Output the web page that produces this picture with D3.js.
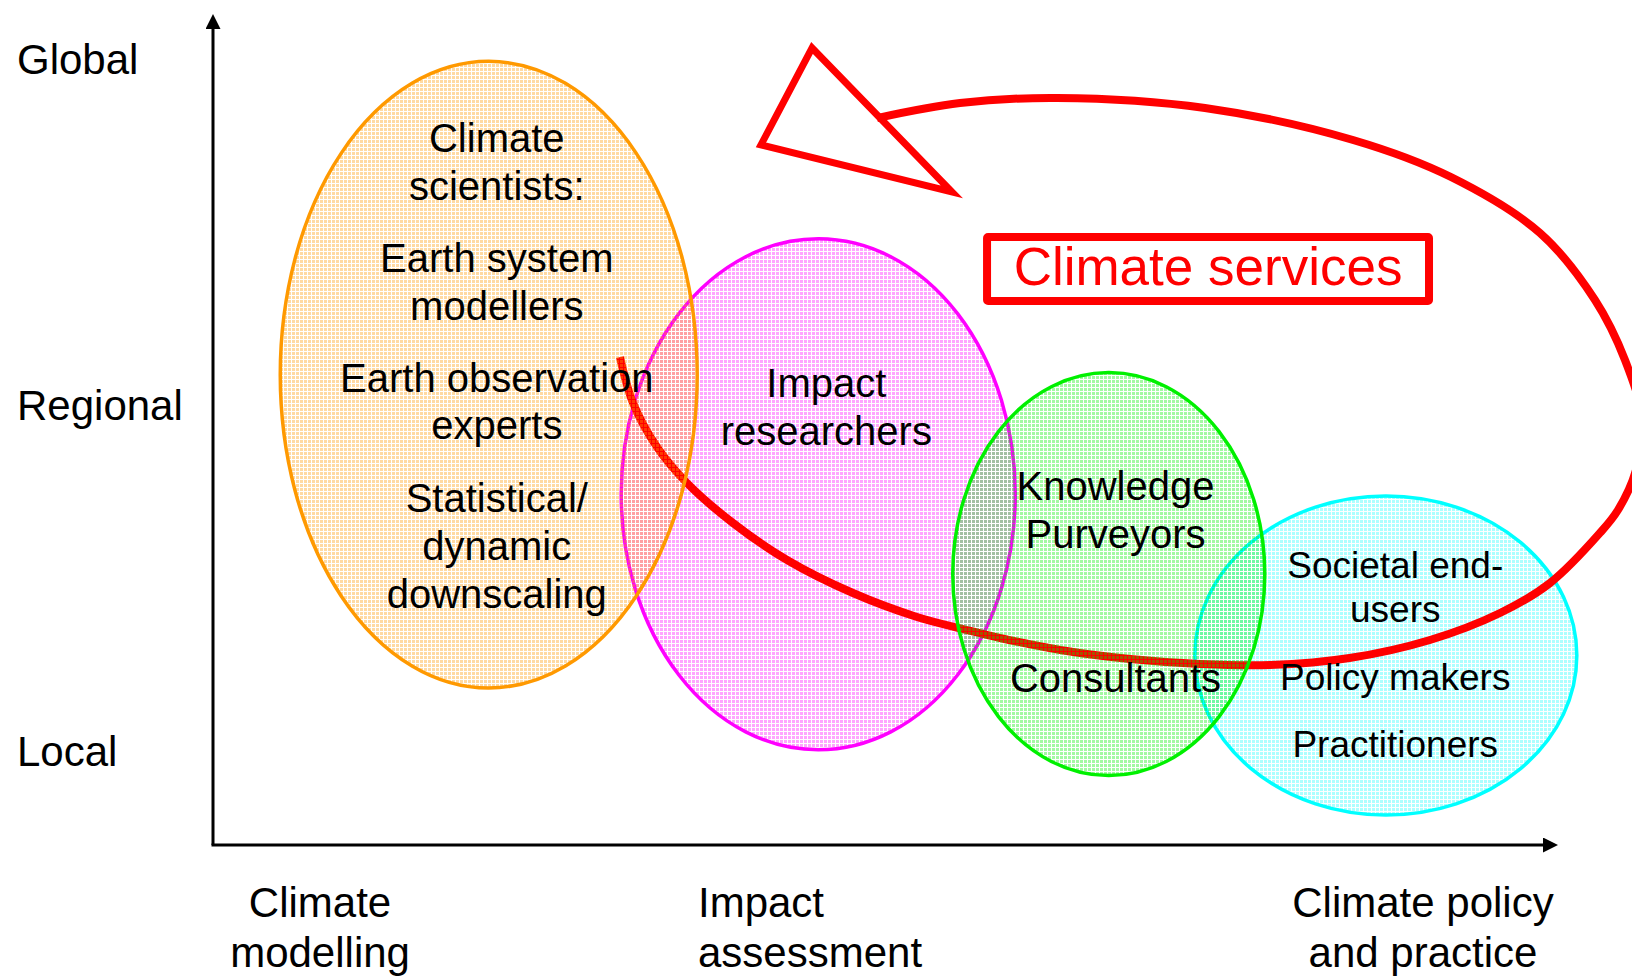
<!DOCTYPE html>
<html>
<head>
<meta charset="utf-8">
<script src="https://cdn.jsdelivr.net/npm/d3@7"></script>
<style>
  html, body { margin: 0; padding: 0; background: #fff; overflow: hidden; }
  svg { display: block; font-family: 'Liberation Sans', Arial, sans-serif; }
</style>
</head>
<body>
<svg id="chart"></svg>
<script>
const SVG_WIDTH = 1632
const SVG_HEIGHT = 976

// actor groups (ellipses), in axis units 0..100
const groupIds = ['scientists', 'impact', 'purveyors', 'users']
const groupCx = [20.5, 45.0, 66.6, 87.2]
const groupCy = [56.6, 42.2, 32.6, 22.8]
const groupRx = [15.5, 14.65, 11.6, 14.2]
const groupRy = [37.7, 30.75, 24.25, 19.2]
const groupColors = ['#ff9900', '#ff00ff', '#00f000', '#00ffff']
const groupAlpha = [0.36, 0.35, 0.36, 0.32]

// text inside the ellipses
const labelText = [
  'Climate', 'scientists:', 'Earth system', 'modellers', 'Earth observation', 'experts',
  'Statistical/', 'dynamic', 'downscaling',
  'Impact', 'researchers',
  'Knowledge', 'Purveyors', 'Consultants',
  'Societal end-', 'users', 'Policy makers', 'Practitioners'
]
const labelX = [21.1, 21.1, 21.1, 21.1, 21.1, 21.1, 21.1, 21.1, 21.1, 45.6, 45.6, 67.1, 67.1, 67.1, 87.9, 87.9, 87.9, 87.9]
const labelY = [83.4, 77.6, 69.0, 63.2, 54.5, 48.8, 40.1, 34.3, 28.5, 53.9, 48.1, 41.5, 35.7, 18.4, 32.1, 26.8, 18.6, 10.6]
const labelSize = [40, 40, 40, 40, 40, 40, 40, 40, 40, 40, 40, 40, 40, 40, 37, 37, 37, 37]

// axis labels
const yTickLabels = ['Global', 'Regional', 'Local']
const yTickValues = [92.8, 51.1, 9.5]
const xTickLabels = [['Climate', 'modelling'], ['Impact', 'assessment'], ['Climate policy', 'and practice']]
const xTickValues = [7.96, 36.06, 89.96]
const xTickAnchor = ['middle', 'start', 'middle']

// climate services loop
const loopX = [30.26, 31.23, 33.01, 35.24, 38.66, 42.68, 47.58, 52.34, 56.06, 58.51, 63.0, 68.2, 73.4, 78.6, 84.5, 90.48, 95.69, 99.41, 103.12, 104.46, 105.8, 106.25, 104.98, 102.75, 98.66, 92.04, 84.76, 73.75, 62.75, 55.54, 49.37]
const loopY = [58.72, 53.19, 47.89, 43.56, 38.75, 34.3, 30.32, 27.44, 25.87, 24.91, 23.47, 22.38, 21.78, 21.66, 22.5, 24.67, 27.92, 31.53, 37.55, 40.31, 45.13, 51.14, 58.36, 65.58, 73.65, 80.38, 84.84, 88.69, 89.89, 89.29, 87.48]
const headX = [44.54, 40.74, 54.94]
const headY = [95.91, 84.24, 78.58]
const serviceBox = { x0: 57.55, x1: 90.41, y0: 65.46, y1: 73.16, label: 'Climate services', labelX: 73.98, labelY: 67.39 }

const svg = d3.select('#chart')
  .attr('width', SVG_WIDTH)
  .attr('height', SVG_HEIGHT)

const xScale = d3.scaleLinear().domain([0, 100]).range([213, 1558])
const yScale = d3.scaleLinear().domain([0, 100]).range([845, 14])

const defs = svg.append('defs')
groupIds.forEach((id, i) => {
  const p = defs.append('pattern')
    .attr('id', 'fill-' + id)
    .attr('width', 4)
    .attr('height', 4)
    .attr('patternUnits', 'userSpaceOnUse')
  p.append('rect')
    .attr('width', 3)
    .attr('height', 3)
    .attr('fill', groupColors[i])
    .attr('fill-opacity', groupAlpha[i])
})

function drawGroup(i) {
  svg.append('ellipse')
    .attr('cx', xScale(groupCx[i]))
    .attr('cy', yScale(groupCy[i]))
    .attr('rx', xScale(groupRx[i]) - xScale(0))
    .attr('ry', yScale(0) - yScale(groupRy[i]))
    .attr('fill', `url(#fill-${groupIds[i]})`)
    .attr('stroke', groupColors[i])
    .attr('stroke-width', 3.5)
}

function drawLoop() {
  const pts = loopX.map((x, i) => [xScale(x), yScale(loopY[i])])
  svg.append('path')
    .attr('d', d3.line().curve(d3.curveCatmullRom.alpha(0.5))(pts))
    .attr('fill', 'none')
    .attr('stroke', '#ff0000')
    .attr('stroke-width', 8)

  const head = headX.map((x, i) => [xScale(x), yScale(headY[i])])
  svg.append('path')
    .attr('d', d3.line()(head) + 'Z')
    .attr('fill', 'none')
    .attr('stroke', '#ff0000')
    .attr('stroke-width', 7)
}

// layering: impact, users, loop, scientists, purveyors
drawGroup(1)
drawGroup(3)
drawLoop()
drawGroup(0)
drawGroup(2)

// climate services box
svg.append('rect')
  .attr('x', xScale(serviceBox.x0))
  .attr('y', yScale(serviceBox.y1))
  .attr('width', xScale(serviceBox.x1) - xScale(serviceBox.x0))
  .attr('height', yScale(serviceBox.y0) - yScale(serviceBox.y1))
  .attr('fill', '#fff')
  .attr('stroke', '#ff0000')
  .attr('stroke-width', 8)
  .attr('rx', 1)
svg.append('text')
  .attr('x', xScale(serviceBox.labelX))
  .attr('y', yScale(serviceBox.labelY))
  .attr('text-anchor', 'middle')
  .attr('font-size', 53)
  .attr('fill', '#ff0000')
  .text(serviceBox.label)

// labels in ellipses
svg.append('g').selectAll('text')
  .data(labelText)
  .enter()
  .append('text')
  .attr('x', (d, i) => xScale(labelX[i]))
  .attr('y', (d, i) => yScale(labelY[i]))
  .attr('text-anchor', 'middle')
  .attr('font-size', (d, i) => labelSize[i])
  .attr('fill', '#000')
  .text(d => d)

// axes
svg.append('marker')
  .attr('id', 'arrow')
  .attr('viewBox', '0 0 10 10')
  .attr('refX', 0)
  .attr('refY', 5)
  .attr('markerWidth', 5)
  .attr('markerHeight', 5)
  .attr('markerUnits', 'strokeWidth')
  .attr('orient', 'auto')
  .append('path')
  .attr('d', 'M0,0 L10,5 L0,10 Z')
  .attr('fill', '#000')

svg.append('path')
  .attr('d', `M${xScale(0)},${yScale(0)} L${xScale(0)},${yScale(100) + 15}`)
  .attr('stroke', '#000')
  .attr('stroke-width', 3)
  .attr('fill', 'none')
  .attr('marker-end', 'url(#arrow)')
svg.append('path')
  .attr('d', `M${xScale(0) - 1.5},${yScale(0)} L${xScale(100) - 15},${yScale(0)}`)
  .attr('stroke', '#000')
  .attr('stroke-width', 3)
  .attr('fill', 'none')
  .attr('marker-end', 'url(#arrow)')

svg.append('g').selectAll('text')
  .data(yTickLabels)
  .enter()
  .append('text')
  .attr('x', 17)
  .attr('y', (d, i) => yScale(yTickValues[i]))
  .attr('font-size', 42)
  .text(d => d)

const xLab = svg.append('g').selectAll('text')
  .data(xTickLabels)
  .enter()
  .append('text')
  .attr('x', (d, i) => xScale(xTickValues[i]))
  .attr('y', 917)
  .attr('text-anchor', (d, i) => xTickAnchor[i])
  .attr('font-size', 42)
xLab.selectAll('tspan')
  .data(d => d)
  .enter()
  .append('tspan')
  .attr('x', function () { return d3.select(this.parentNode).attr('x') })
  .attr('dy', (d, i) => i === 0 ? 0 : 50)
  .text(d => d)
</script>
</body>
</html>
